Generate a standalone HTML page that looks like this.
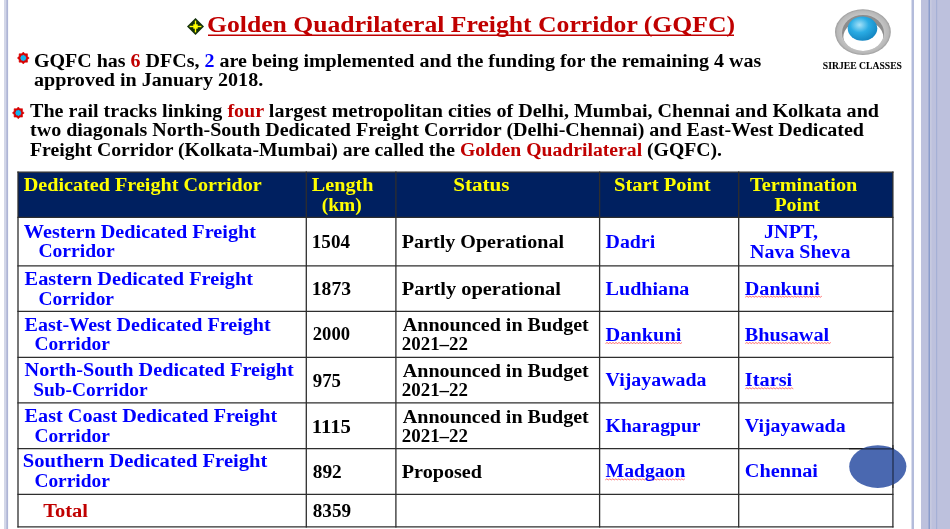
<!DOCTYPE html>
<html><head><meta charset="utf-8"><style>
html,body{margin:0;padding:0;width:950px;height:529px;overflow:hidden;background:#fff}
svg{position:absolute;left:0;top:0;will-change:transform}
text{font-family:"Liberation Serif",serif;font-weight:bold;white-space:pre;stroke-width:0px}
</style></head><body>
<svg width="950" height="529" viewBox="0 0 950 529">
<defs>
<radialGradient id="ball" cx="0.4" cy="0.35" r="0.7">
<stop offset="0" stop-color="#A6E2F8"/><stop offset="0.45" stop-color="#2AACE4"/><stop offset="1" stop-color="#1282BE"/>
</radialGradient>
<radialGradient id="ring" cx="0.5" cy="0.5" r="0.5">
<stop offset="0.75" stop-color="#C4C4C4"/><stop offset="0.92" stop-color="#B8B8B8"/><stop offset="1" stop-color="#9C9C9C"/>
</radialGradient>
</defs>
<!-- left stripe -->
<rect x="4" y="0" width="2.2" height="529" fill="#D3D7E8"/><rect x="6.2" y="0" width="1.9" height="529" fill="#AEB5D5"/>
<!-- right stripes -->
<rect x="911.5" y="0" width="2.5" height="529" fill="#B4BCDB"/>
<rect x="921" y="0" width="29" height="529" fill="#BDC1DD"/>
<rect x="928.5" y="0" width="1.5" height="529" fill="#8A9CCB"/>
<rect x="930" y="0" width="1.6" height="529" fill="#C7CADF"/><rect x="936" y="0" width="1.2" height="529" fill="#A5B0D6"/>
<!-- logo -->
<ellipse cx="862.9" cy="32.1" rx="27.9" ry="22.9" fill="url(#ring)"/>
<clipPath id="hole"><ellipse cx="863" cy="32.9" rx="21" ry="18"/></clipPath>
<ellipse cx="863" cy="32.9" rx="21" ry="18" fill="#8C8C8C"/>
<g clip-path="url(#hole)"><ellipse cx="863.3" cy="37" rx="20" ry="16" fill="#FFFFFF"/></g>
<ellipse cx="862.5" cy="28.6" rx="14.8" ry="12.2" fill="url(#ball)"/>
<!-- title diamond -->
<polygon points="195.5,18 204,26.5 195.5,35 187,26.5" fill="#12300A"/>
<rect x="193.3" y="24.3" width="4.4" height="4.4" fill="#FFFF00"/><rect x="189.6" y="25.8" width="11.8" height="1.4" fill="#FFFF00"/><rect x="194.8" y="20.6" width="1.4" height="11.8" fill="#FFFF00"/>
<line x1="208" y1="35.3" x2="734" y2="35.3" stroke="#C00000" stroke-width="1.6"/>
<!-- bullets -->
<polygon points="23.30,52.10 25.02,53.86 27.47,53.83 27.44,56.28 29.20,58.00 27.44,59.72 27.47,62.17 25.02,62.14 23.30,63.90 21.58,62.14 19.13,62.17 19.16,59.72 17.40,58.00 19.16,56.28 19.13,53.83 21.58,53.86" fill="#D80000" stroke="#D80000" stroke-width="0.6" stroke-linejoin="round"/><polygon points="23.30,54.76 24.29,55.60 25.59,55.71 25.70,57.01 26.55,58.00 25.70,58.99 25.59,60.29 24.29,60.40 23.30,61.24 22.31,60.40 21.01,60.29 20.90,58.99 20.05,58.00 20.90,57.01 21.01,55.71 22.31,55.60" fill="#12B4EE"/>
<polygon points="18.30,107.00 20.02,108.76 22.47,108.73 22.44,111.18 24.20,112.90 22.44,114.62 22.47,117.07 20.02,117.04 18.30,118.80 16.58,117.04 14.13,117.07 14.16,114.62 12.40,112.90 14.16,111.18 14.13,108.73 16.58,108.76" fill="#D80000" stroke="#D80000" stroke-width="0.6" stroke-linejoin="round"/><polygon points="18.30,109.66 19.29,110.50 20.59,110.61 20.70,111.91 21.55,112.90 20.70,113.89 20.59,115.19 19.29,115.30 18.30,116.15 17.31,115.30 16.01,115.19 15.90,113.89 15.05,112.90 15.90,111.91 16.01,110.61 17.31,110.50" fill="#12B4EE"/>
<!-- table -->
<rect x="18" y="172.2" width="874.9" height="45.10000000000002" fill="#002060"/><line x1="17.4" y1="172.2" x2="893.5" y2="172.2" stroke="#2E2E2E" stroke-width="1.3"/><line x1="17.4" y1="217.3" x2="893.5" y2="217.3" stroke="#2E2E2E" stroke-width="1.3"/><line x1="17.4" y1="265.8" x2="893.5" y2="265.8" stroke="#2E2E2E" stroke-width="1.3"/><line x1="17.4" y1="311.3" x2="893.5" y2="311.3" stroke="#2E2E2E" stroke-width="1.3"/><line x1="17.4" y1="357.4" x2="893.5" y2="357.4" stroke="#2E2E2E" stroke-width="1.3"/><line x1="17.4" y1="402.9" x2="893.5" y2="402.9" stroke="#2E2E2E" stroke-width="1.3"/><line x1="17.4" y1="448.6" x2="893.5" y2="448.6" stroke="#2E2E2E" stroke-width="1.3"/><line x1="17.4" y1="494.3" x2="893.5" y2="494.3" stroke="#2E2E2E" stroke-width="1.3"/><line x1="17.4" y1="526.8" x2="893.5" y2="526.8" stroke="#2E2E2E" stroke-width="1.3"/><line x1="18" y1="171.6" x2="18" y2="527.4" stroke="#2E2E2E" stroke-width="1.3"/><line x1="306.3" y1="171.6" x2="306.3" y2="527.4" stroke="#2E2E2E" stroke-width="1.3"/><line x1="395.9" y1="171.6" x2="395.9" y2="527.4" stroke="#2E2E2E" stroke-width="1.3"/><line x1="599.6" y1="171.6" x2="599.6" y2="527.4" stroke="#2E2E2E" stroke-width="1.3"/><line x1="738.7" y1="171.6" x2="738.7" y2="527.4" stroke="#2E2E2E" stroke-width="1.3"/><line x1="892.9" y1="171.6" x2="892.9" y2="527.4" stroke="#2E2E2E" stroke-width="1.3"/>
<!-- blue ellipse -->
<ellipse cx="877.8" cy="466.6" rx="28.6" ry="21.4" fill="#4A68B0"/>
<line x1="849" y1="448.8" x2="893.5" y2="448.8" stroke="#000" stroke-width="1.2" opacity="0.6"/>
<line x1="893" y1="445" x2="893" y2="488" stroke="#000" stroke-width="1.2" opacity="0.6"/>
<path d="M745.3,297.2 L746.8,296.2 L748.3,297.2 L749.8,296.2 L751.3,297.2 L752.8,296.2 L754.3,297.2 L755.8,296.2 L757.3,297.2 L758.8,296.2 L760.3,297.2 L761.8,296.2 L763.3,297.2 L764.8,296.2 L766.3,297.2 L767.8,296.2 L769.3,297.2 L770.8,296.2 L772.3,297.2 L773.8,296.2 L775.3,297.2 L776.8,296.2 L778.3,297.2 L779.8,296.2 L781.3,297.2 L782.8,296.2 L784.3,297.2 L785.8,296.2 L787.3,297.2 L788.8,296.2 L790.3,297.2 L791.8,296.2 L793.3,297.2 L794.8,296.2 L796.3,297.2 L797.8,296.2 L799.3,297.2 L800.8,296.2 L802.3,297.2 L803.8,296.2 L805.3,297.2 L806.8,296.2 L808.3,297.2 L809.8,296.2 L811.3,297.2 L812.8,296.2 L814.3,297.2 L815.8,296.2 L817.3,297.2 L818.8,296.2 L820.3,297.2 L821.8,296.2" fill="none" stroke="#FF0000" stroke-width="0.7" opacity="0.8"/><path d="M605.5,343.5 L607.0,342.5 L608.5,343.5 L610.0,342.5 L611.5,343.5 L613.0,342.5 L614.5,343.5 L616.0,342.5 L617.5,343.5 L619.0,342.5 L620.5,343.5 L622.0,342.5 L623.5,343.5 L625.0,342.5 L626.5,343.5 L628.0,342.5 L629.5,343.5 L631.0,342.5 L632.5,343.5 L634.0,342.5 L635.5,343.5 L637.0,342.5 L638.5,343.5 L640.0,342.5 L641.5,343.5 L643.0,342.5 L644.5,343.5 L646.0,342.5 L647.5,343.5 L649.0,342.5 L650.5,343.5 L652.0,342.5 L653.5,343.5 L655.0,342.5 L656.5,343.5 L658.0,342.5 L659.5,343.5 L661.0,342.5 L662.5,343.5 L664.0,342.5 L665.5,343.5 L667.0,342.5 L668.5,343.5 L670.0,342.5 L671.5,343.5 L673.0,342.5 L674.5,343.5 L676.0,342.5 L677.5,343.5 L679.0,342.5 L680.5,343.5 L682.0,342.5" fill="none" stroke="#FF0000" stroke-width="0.7" opacity="0.8"/><path d="M745.3,343.5 L746.8,342.5 L748.3,343.5 L749.8,342.5 L751.3,343.5 L752.8,342.5 L754.3,343.5 L755.8,342.5 L757.3,343.5 L758.8,342.5 L760.3,343.5 L761.8,342.5 L763.3,343.5 L764.8,342.5 L766.3,343.5 L767.8,342.5 L769.3,343.5 L770.8,342.5 L772.3,343.5 L773.8,342.5 L775.3,343.5 L776.8,342.5 L778.3,343.5 L779.8,342.5 L781.3,343.5 L782.8,342.5 L784.3,343.5 L785.8,342.5 L787.3,343.5 L788.8,342.5 L790.3,343.5 L791.8,342.5 L793.3,343.5 L794.8,342.5 L796.3,343.5 L797.8,342.5 L799.3,343.5 L800.8,342.5 L802.3,343.5 L803.8,342.5 L805.3,343.5 L806.8,342.5 L808.3,343.5 L809.8,342.5 L811.3,343.5 L812.8,342.5 L814.3,343.5 L815.8,342.5 L817.3,343.5 L818.8,342.5 L820.3,343.5 L821.8,342.5 L823.3,343.5 L824.8,342.5 L826.3,343.5 L827.8,342.5 L829.3,343.5 L830.8,342.5" fill="none" stroke="#FF0000" stroke-width="0.7" opacity="0.8"/><path d="M745.3,388.8 L746.8,387.8 L748.3,388.8 L749.8,387.8 L751.3,388.8 L752.8,387.8 L754.3,388.8 L755.8,387.8 L757.3,388.8 L758.8,387.8 L760.3,388.8 L761.8,387.8 L763.3,388.8 L764.8,387.8 L766.3,388.8 L767.8,387.8 L769.3,388.8 L770.8,387.8 L772.3,388.8 L773.8,387.8 L775.3,388.8 L776.8,387.8 L778.3,388.8 L779.8,387.8 L781.3,388.8 L782.8,387.8 L784.3,388.8 L785.8,387.8 L787.3,388.8 L788.8,387.8 L790.3,388.8 L791.8,387.8 L793.3,388.8" fill="none" stroke="#FF0000" stroke-width="0.7" opacity="0.8"/><path d="M605.3,479.9 L606.8,478.9 L608.3,479.9 L609.8,478.9 L611.3,479.9 L612.8,478.9 L614.3,479.9 L615.8,478.9 L617.3,479.9 L618.8,478.9 L620.3,479.9 L621.8,478.9 L623.3,479.9 L624.8,478.9 L626.3,479.9 L627.8,478.9 L629.3,479.9 L630.8,478.9 L632.3,479.9 L633.8,478.9 L635.3,479.9 L636.8,478.9 L638.3,479.9 L639.8,478.9 L641.3,479.9 L642.8,478.9 L644.3,479.9 L645.8,478.9 L647.3,479.9 L648.8,478.9 L650.3,479.9 L651.8,478.9 L653.3,479.9 L654.8,478.9 L656.3,479.9 L657.8,478.9 L659.3,479.9 L660.8,478.9 L662.3,479.9 L663.8,478.9 L665.3,479.9 L666.8,478.9 L668.3,479.9 L669.8,478.9 L671.3,479.9 L672.8,478.9 L674.3,479.9 L675.8,478.9 L677.3,479.9 L678.8,478.9 L680.3,479.9 L681.8,478.9 L683.3,479.9 L684.8,478.9" fill="none" stroke="#FF0000" stroke-width="0.7" opacity="0.8"/>
<text x="207.00" y="31.6" font-size="22.4" textLength="528.00" lengthAdjust="spacingAndGlyphs"><tspan fill="#C00000" stroke="#C00000">Golden Quadrilateral Freight Corridor (GQFC)</tspan></text>
<text x="34.00" y="66.6" font-size="18.4" textLength="727.20" lengthAdjust="spacingAndGlyphs"><tspan fill="#000000" stroke="#000000">GQFC has </tspan><tspan fill="#C00000" stroke="#C00000">6</tspan><tspan fill="#000000" stroke="#000000"> DFCs, </tspan><tspan fill="#0000FF" stroke="#0000FF">2</tspan><tspan fill="#000000" stroke="#000000"> are being implemented and the funding for the remaining 4 was</tspan></text>
<text x="34.00" y="86.3" font-size="18.4" textLength="229.20" lengthAdjust="spacingAndGlyphs"><tspan fill="#000000" stroke="#000000">approved in January 2018.</tspan></text>
<text x="30.00" y="116.6" font-size="18.4" textLength="849.00" lengthAdjust="spacingAndGlyphs"><tspan fill="#000000" stroke="#000000">The rail tracks linking </tspan><tspan fill="#C00000" stroke="#C00000">four</tspan><tspan fill="#000000" stroke="#000000"> largest metropolitan cities of Delhi, Mumbai, Chennai and Kolkata and</tspan></text>
<text x="30.00" y="136.0" font-size="18.4" textLength="834.00" lengthAdjust="spacingAndGlyphs"><tspan fill="#000000" stroke="#000000">two diagonals North-South Dedicated Freight Corridor (Delhi-Chennai) and East-West Dedicated</tspan></text>
<text x="30.00" y="155.6" font-size="18.4" textLength="692.00" lengthAdjust="spacingAndGlyphs"><tspan fill="#000000" stroke="#000000">Freight Corridor (Kolkata-Mumbai) are called the </tspan><tspan fill="#C00000" stroke="#C00000">Golden Quadrilateral</tspan><tspan fill="#000000" stroke="#000000"> (GQFC).</tspan></text>
<text x="822.80" y="68.8" font-size="9.6" textLength="79.20" lengthAdjust="spacingAndGlyphs" style="stroke-width:0.05px"><tspan fill="#000000" stroke="#000000">SIRJEE CLASSES</tspan></text>
<text x="23.80" y="190.9" font-size="18.4" textLength="238.00" lengthAdjust="spacingAndGlyphs"><tspan fill="#FFFF00" stroke="#FFFF00">Dedicated Freight Corridor</tspan></text>
<text x="311.80" y="191.0" font-size="18.4" textLength="61.60" lengthAdjust="spacingAndGlyphs"><tspan fill="#FFFF00" stroke="#FFFF00">Length</tspan></text>
<text x="321.80" y="210.8" font-size="18.4" textLength="40.00" lengthAdjust="spacingAndGlyphs"><tspan fill="#FFFF00" stroke="#FFFF00">(km)</tspan></text>
<text x="453.20" y="191.0" font-size="18.4" textLength="56.40" lengthAdjust="spacingAndGlyphs"><tspan fill="#FFFF00" stroke="#FFFF00">Status</tspan></text>
<text x="614.00" y="191.0" font-size="18.4" textLength="96.60" lengthAdjust="spacingAndGlyphs"><tspan fill="#FFFF00" stroke="#FFFF00">Start Point</tspan></text>
<text x="750.00" y="191.1" font-size="18.4" textLength="107.40" lengthAdjust="spacingAndGlyphs"><tspan fill="#FFFF00" stroke="#FFFF00">Termination</tspan></text>
<text x="774.40" y="210.9" font-size="18.4" textLength="45.60" lengthAdjust="spacingAndGlyphs"><tspan fill="#FFFF00" stroke="#FFFF00">Point</tspan></text>
<text x="23.80" y="237.7" font-size="18.4" textLength="232.20" lengthAdjust="spacingAndGlyphs"><tspan fill="#0000FF" stroke="#0000FF">Western Dedicated Freight</tspan></text>
<text x="38.40" y="257.4" font-size="18.4" textLength="76.20" lengthAdjust="spacingAndGlyphs"><tspan fill="#0000FF" stroke="#0000FF">Corridor</tspan></text>
<text x="24.60" y="284.8" font-size="18.4" textLength="228.40" lengthAdjust="spacingAndGlyphs"><tspan fill="#0000FF" stroke="#0000FF">Eastern Dedicated Freight</tspan></text>
<text x="38.40" y="304.7" font-size="18.4" textLength="75.60" lengthAdjust="spacingAndGlyphs"><tspan fill="#0000FF" stroke="#0000FF">Corridor</tspan></text>
<text x="24.60" y="330.6" font-size="18.4" textLength="246.00" lengthAdjust="spacingAndGlyphs"><tspan fill="#0000FF" stroke="#0000FF">East-West Dedicated Freight</tspan></text>
<text x="34.40" y="349.9" font-size="18.4" textLength="75.40" lengthAdjust="spacingAndGlyphs"><tspan fill="#0000FF" stroke="#0000FF">Corridor</tspan></text>
<text x="24.60" y="375.9" font-size="18.4" textLength="269.20" lengthAdjust="spacingAndGlyphs"><tspan fill="#0000FF" stroke="#0000FF">North-South Dedicated Freight</tspan></text>
<text x="33.20" y="396.1" font-size="18.4" textLength="114.40" lengthAdjust="spacingAndGlyphs"><tspan fill="#0000FF" stroke="#0000FF">Sub-Corridor</tspan></text>
<text x="24.60" y="422.0" font-size="18.4" textLength="252.60" lengthAdjust="spacingAndGlyphs"><tspan fill="#0000FF" stroke="#0000FF">East Coast Dedicated Freight</tspan></text>
<text x="34.40" y="441.9" font-size="18.4" textLength="75.40" lengthAdjust="spacingAndGlyphs"><tspan fill="#0000FF" stroke="#0000FF">Corridor</tspan></text>
<text x="22.80" y="466.7" font-size="18.4" textLength="244.60" lengthAdjust="spacingAndGlyphs"><tspan fill="#0000FF" stroke="#0000FF">Southern Dedicated Freight</tspan></text>
<text x="34.40" y="487.2" font-size="18.4" textLength="75.40" lengthAdjust="spacingAndGlyphs"><tspan fill="#0000FF" stroke="#0000FF">Corridor</tspan></text>
<text x="43.20" y="517.4" font-size="18.4" textLength="44.80" lengthAdjust="spacingAndGlyphs"><tspan fill="#C00000" stroke="#C00000">Total</tspan></text>
<text x="311.80" y="248.4" font-size="18.4" textLength="38.20" lengthAdjust="spacingAndGlyphs"><tspan fill="#000000" stroke="#000000">1504</tspan></text>
<text x="311.80" y="294.7" font-size="18.4" textLength="39.20" lengthAdjust="spacingAndGlyphs"><tspan fill="#000000" stroke="#000000">1873</tspan></text>
<text x="312.80" y="340.0" font-size="18.4" textLength="37.20" lengthAdjust="spacingAndGlyphs"><tspan fill="#000000" stroke="#000000">2000</tspan></text>
<text x="312.80" y="386.5" font-size="18.4" textLength="28.20" lengthAdjust="spacingAndGlyphs"><tspan fill="#000000" stroke="#000000">975</tspan></text>
<text x="311.80" y="432.9" font-size="18.4" textLength="39.20" lengthAdjust="spacingAndGlyphs"><tspan fill="#000000" stroke="#000000">1115</tspan></text>
<text x="312.80" y="477.9" font-size="18.4" textLength="29.00" lengthAdjust="spacingAndGlyphs"><tspan fill="#000000" stroke="#000000">892</tspan></text>
<text x="312.80" y="516.5" font-size="18.4" textLength="38.20" lengthAdjust="spacingAndGlyphs"><tspan fill="#000000" stroke="#000000">8359</tspan></text>
<text x="401.80" y="248.0" font-size="18.4" textLength="162.20" lengthAdjust="spacingAndGlyphs"><tspan fill="#000000" stroke="#000000">Partly Operational</tspan></text>
<text x="401.80" y="294.5" font-size="18.4" textLength="159.20" lengthAdjust="spacingAndGlyphs"><tspan fill="#000000" stroke="#000000">Partly operational</tspan></text>
<text x="402.80" y="330.8" font-size="18.4" textLength="186.00" lengthAdjust="spacingAndGlyphs"><tspan fill="#000000" stroke="#000000">Announced in Budget</tspan></text>
<text x="401.80" y="350.3" font-size="18.4" textLength="66.20" lengthAdjust="spacingAndGlyphs"><tspan fill="#000000" stroke="#000000">2021–22</tspan></text>
<text x="402.80" y="376.6" font-size="18.4" textLength="186.00" lengthAdjust="spacingAndGlyphs"><tspan fill="#000000" stroke="#000000">Announced in Budget</tspan></text>
<text x="401.80" y="396.1" font-size="18.4" textLength="66.20" lengthAdjust="spacingAndGlyphs"><tspan fill="#000000" stroke="#000000">2021–22</tspan></text>
<text x="402.80" y="422.6" font-size="18.4" textLength="186.00" lengthAdjust="spacingAndGlyphs"><tspan fill="#000000" stroke="#000000">Announced in Budget</tspan></text>
<text x="401.80" y="442.1" font-size="18.4" textLength="66.20" lengthAdjust="spacingAndGlyphs"><tspan fill="#000000" stroke="#000000">2021–22</tspan></text>
<text x="401.80" y="478.0" font-size="18.4" textLength="80.20" lengthAdjust="spacingAndGlyphs"><tspan fill="#000000" stroke="#000000">Proposed</tspan></text>
<text x="605.60" y="247.8" font-size="18.4" textLength="49.60" lengthAdjust="spacingAndGlyphs"><tspan fill="#0000FF" stroke="#0000FF">Dadri</tspan></text>
<text x="605.60" y="294.7" font-size="18.4" textLength="83.80" lengthAdjust="spacingAndGlyphs"><tspan fill="#0000FF" stroke="#0000FF">Ludhiana</tspan></text>
<text x="605.60" y="341.0" font-size="18.4" textLength="75.80" lengthAdjust="spacingAndGlyphs"><tspan fill="#0000FF" stroke="#0000FF">Dankuni</tspan></text>
<text x="605.60" y="386.3" font-size="18.4" textLength="100.80" lengthAdjust="spacingAndGlyphs"><tspan fill="#0000FF" stroke="#0000FF">Vijayawada</tspan></text>
<text x="605.60" y="432.0" font-size="18.4" textLength="95.00" lengthAdjust="spacingAndGlyphs"><tspan fill="#0000FF" stroke="#0000FF">Kharagpur</tspan></text>
<text x="605.60" y="477.3" font-size="18.4" textLength="79.80" lengthAdjust="spacingAndGlyphs"><tspan fill="#0000FF" stroke="#0000FF">Madgaon</tspan></text>
<text x="764.00" y="237.7" font-size="18.4" textLength="54.00" lengthAdjust="spacingAndGlyphs"><tspan fill="#0000FF" stroke="#0000FF">JNPT,</tspan></text>
<text x="750.00" y="257.7" font-size="18.4" textLength="100.40" lengthAdjust="spacingAndGlyphs"><tspan fill="#0000FF" stroke="#0000FF">Nava Sheva</tspan></text>
<text x="744.80" y="294.7" font-size="18.4" textLength="75.00" lengthAdjust="spacingAndGlyphs"><tspan fill="#0000FF" stroke="#0000FF">Dankuni</tspan></text>
<text x="744.80" y="341.0" font-size="18.4" textLength="84.40" lengthAdjust="spacingAndGlyphs"><tspan fill="#0000FF" stroke="#0000FF">Bhusawal</tspan></text>
<text x="744.80" y="386.3" font-size="18.4" textLength="47.40" lengthAdjust="spacingAndGlyphs"><tspan fill="#0000FF" stroke="#0000FF">Itarsi</tspan></text>
<text x="744.80" y="432.0" font-size="18.4" textLength="100.80" lengthAdjust="spacingAndGlyphs"><tspan fill="#0000FF" stroke="#0000FF">Vijayawada</tspan></text>
<text x="744.80" y="477.3" font-size="18.4" textLength="73.20" lengthAdjust="spacingAndGlyphs"><tspan fill="#0000FF" stroke="#0000FF">Chennai</tspan></text>
</svg>
</body></html>
